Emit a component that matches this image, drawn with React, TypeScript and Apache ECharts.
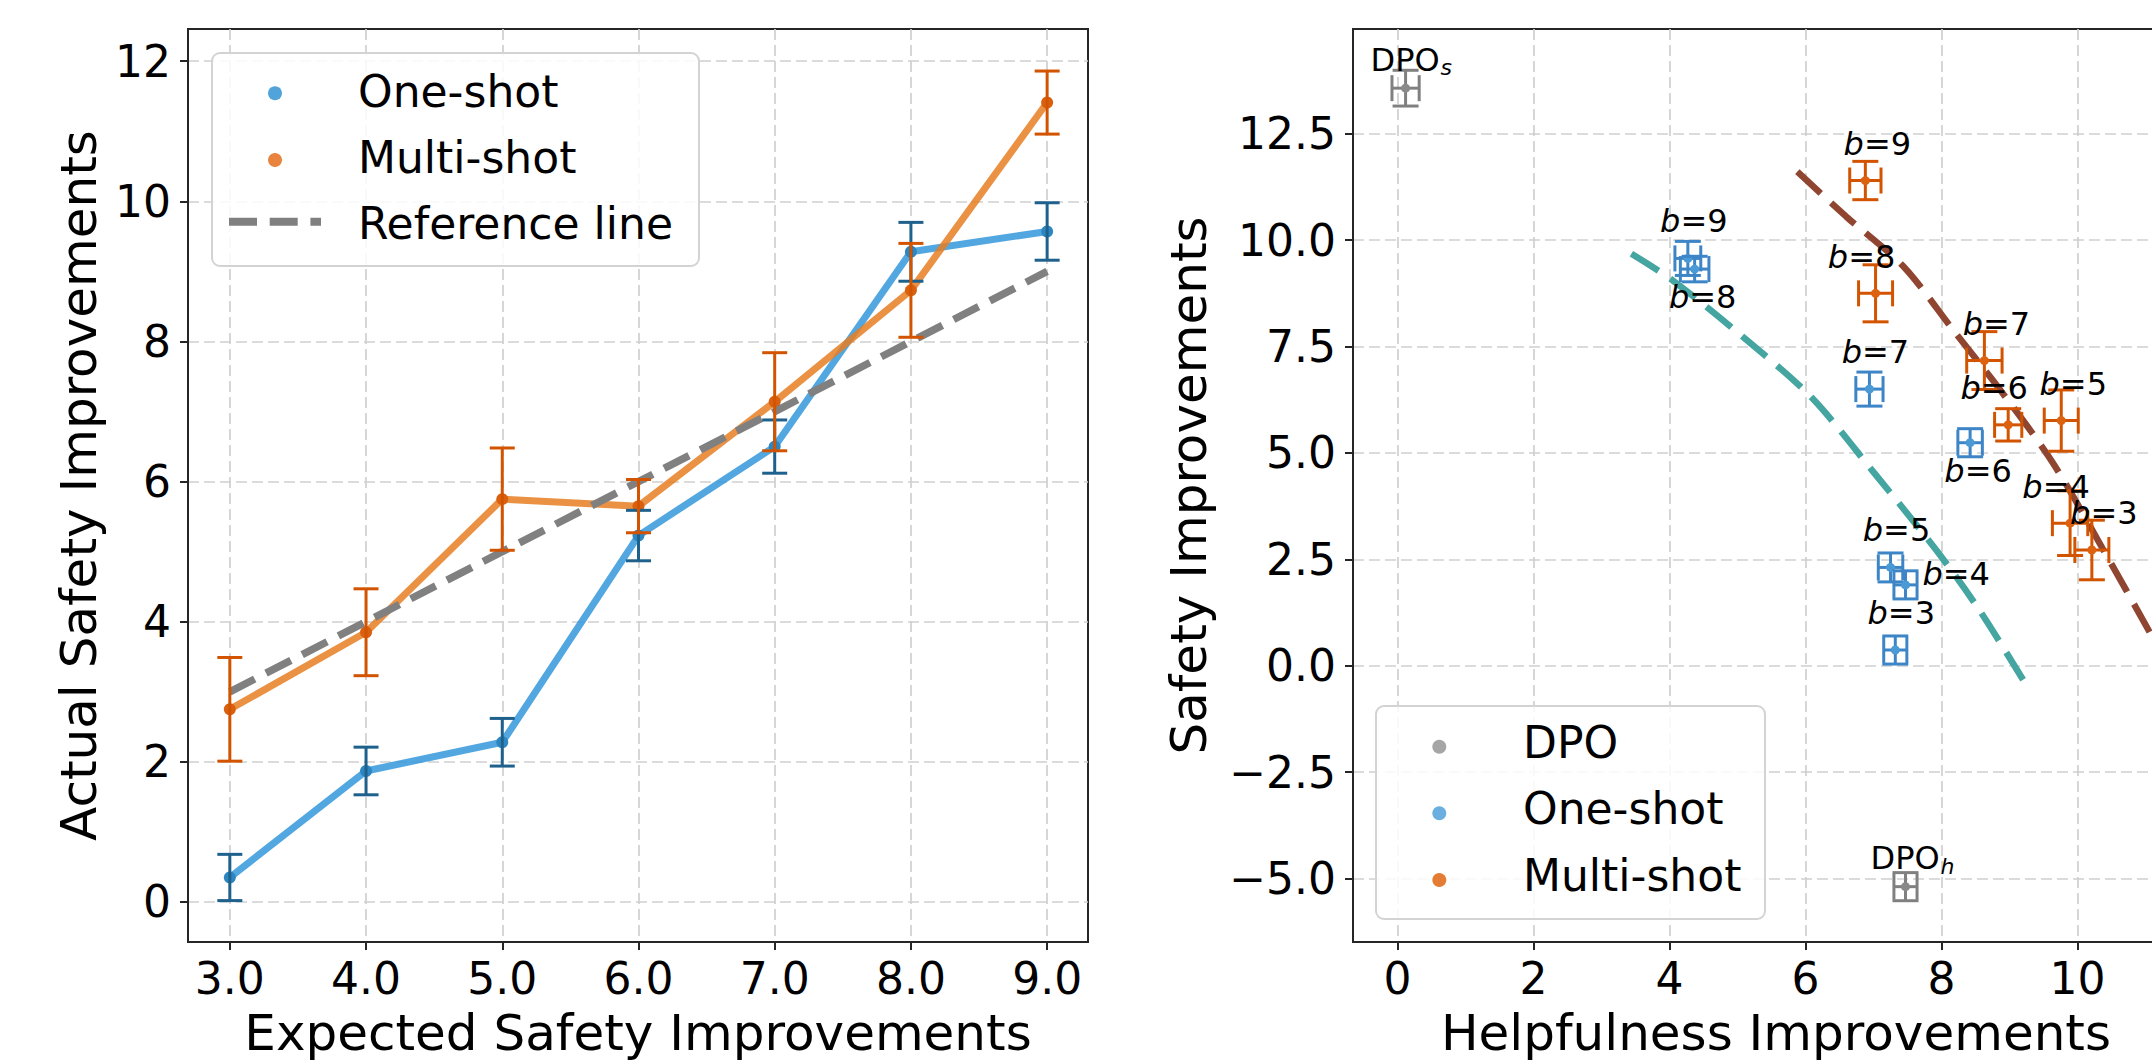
import React, { useEffect, useRef } from "react";
import * as echarts from "echarts";

// ---------- Left panel data ----------
const expectedSafety = [3, 4, 5, 6, 7, 8, 9];
const oneShotActual = [0.35, 1.87, 2.28, 5.23, 6.5, 9.28, 9.57];
const oneShotActualErr = [0.33, 0.34, 0.34, 0.36, 0.38, 0.42, 0.41];
const multiShotActual = [2.75, 3.85, 5.75, 5.65, 7.14, 8.73, 11.41];
const multiShotActualErr = [0.74, 0.62, 0.73, 0.38, 0.7, 0.67, 0.45];
const referenceActual = [3, 4, 5, 6, 7, 8, 9];

const leftXTicks = [3, 4, 5, 6, 7, 8, 9];
const leftYTicks = [0, 2, 4, 6, 8, 10, 12];

// ---------- Right panel data ----------
const oneShotBudgets = ["9", "8", "7", "6", "5", "4", "3"];
const oneShotHelp = [4.27, 4.37, 6.94, 8.42, 7.25, 7.47, 7.32];
const oneShotHelpErr = [0.19, 0.21, 0.2, 0.18, 0.18, 0.17, 0.17];
const oneShotSafety = [9.57, 9.32, 6.5, 5.24, 2.31, 1.9, 0.37];
const oneShotSafetyErr = [0.4, 0.3, 0.4, 0.33, 0.34, 0.33, 0.33];
const oneShotLabelPlace = ["above", "below", "above", "below", "above", "right", "above"];

const multiShotBudgets = ["9", "8", "7", "6", "5", "4", "3"];
const multiShotHelp = [6.88, 7.03, 8.63, 8.98, 9.76, 9.89, 10.21];
const multiShotHelpErr = [0.23, 0.25, 0.26, 0.2, 0.25, 0.26, 0.25];
const multiShotSafety = [11.4, 8.75, 7.17, 5.66, 5.76, 3.35, 2.72];
const multiShotSafetyErr = [0.45, 0.67, 0.68, 0.38, 0.72, 0.76, 0.7];
const multiShotLabelPlace = ["aboveRight", "aboveLeft", "aboveRight", "aboveLeft", "aboveRight", "aboveLeft", "aboveRight"];

const dpoSubscripts = ["s", "h"];
const dpoHelp = [0.12, 7.47];
const dpoHelpErr = [0.2, 0.17];
const dpoSafety = [13.57, -5.19];
const dpoSafetyErr = [0.42, 0.33];

const oneShotTrend = [
  [3.44, 9.68], [4.05, 9.05], [5.1, 7.7], [6.09, 6.3], [7.0, 4.55], [7.93, 2.7], [8.56, 1.3], [9.23, -0.41],
];
const multiShotTrend = [
  [5.88, 11.61], [6.6, 10.55], [7.44, 9.38], [8.17, 7.89], [8.9, 6.4], [9.64, 4.76], [10.38, 2.72], [11.07, 0.76], [11.6, -0.8],
];

const rightXTicks = [0, 2, 4, 6, 8, 10, 12];
const rightYTicks = [-5, -2.5, 0, 2.5, 5, 7.5, 10, 12.5];

// ---------- Styling ----------
const FONT = "DejaVu Sans";
const FRAME = "#262626";
const GRID = "#cfcfcf";
const TICK_FS = 44;
const TITLE_FS = 50;
const LEGEND_FS = 44;
const ANN_FS = 32;

const LEFT_GRID = { left: 188, top: 29, width: 900, height: 913 };
const RIGHT_GRID = { left: 1353, top: 29, width: 847, height: 913 };

const LABEL_OFFSETS: Record<string, { dx: number; base: number; align: string }> = {
  above: { dx: 6, base: -26, align: "center" },
  below: { dx: 8, base: 39, align: "center" },
  right: { dx: 17, base: 0, align: "left" },
  aboveRight: { dx: 12, base: -26, align: "center" },
  aboveLeft: { dx: -14, base: -25.5, align: "center" },
};

function minusFmt(v: number, digits: number) {
  const s = Math.abs(v).toFixed(digits);
  return v < 0 ? "\u2212" + s : s;
}

function valueAxis(gridIndex: number, min: number, max: number, ticks: number[], fmt: (v: number) => string, isX: boolean) {
  return {
    type: "value",
    gridIndex,
    min,
    max,
    axisLine: { show: true, onZero: false, lineStyle: { color: FRAME, width: 2 } },
    axisTick: { show: true, inside: false, length: 8, customValues: ticks, lineStyle: { color: FRAME, width: 2 } },
    axisLabel: {
      show: true,
      customValues: ticks,
      formatter: (v: number) => fmt(v),
      color: "#000",
      fontSize: TICK_FS,
      fontFamily: FONT,
      margin: isX ? 14 : 17,
    },
    splitLine: { show: true, lineStyle: { color: GRID, width: 1.7, type: [11, 5] } },
  };
}

function errorBarRenderer(color: string, markerColor: string | null, cap: number, lw: number, labels?: (i: number, cx: number, cy: number) => any[]) {
  return (params: any, api: any) => {
    const x = api.value(0);
    const y = api.value(1);
    const ex = api.value(2);
    const ey = api.value(3);
    const c = api.coord([x, y]);
    const children: any[] = [];
    const st = { stroke: color, lineWidth: lw };
    if (ey > 0) {
      const t = api.coord([x, y + ey]);
      const b = api.coord([x, y - ey]);
      children.push({ type: "line", shape: { x1: c[0], y1: t[1], x2: c[0], y2: b[1] }, style: st });
      children.push({ type: "line", shape: { x1: c[0] - cap / 2, y1: t[1], x2: c[0] + cap / 2, y2: t[1] }, style: st });
      children.push({ type: "line", shape: { x1: c[0] - cap / 2, y1: b[1], x2: c[0] + cap / 2, y2: b[1] }, style: st });
    }
    if (ex > 0) {
      const l = api.coord([x - ex, y]);
      const r = api.coord([x + ex, y]);
      children.push({ type: "line", shape: { x1: l[0], y1: c[1], x2: r[0], y2: c[1] }, style: st });
      children.push({ type: "line", shape: { x1: l[0], y1: c[1] - cap / 2, x2: l[0], y2: c[1] + cap / 2 }, style: st });
      children.push({ type: "line", shape: { x1: r[0], y1: c[1] - cap / 2, x2: r[0], y2: c[1] + cap / 2 }, style: st });
    }
    if (markerColor) {
      children.push({ type: "circle", shape: { cx: c[0], cy: c[1], r: 4.5 }, style: { fill: markerColor } });
    }
    if (labels) {
      labels(params.dataIndex, c[0], c[1]).forEach((e) => children.push(e));
    }
    return { type: "group", children };
  };
}

function budgetLabel(budgets: string[], places: string[]) {
  return (i: number, cx: number, cy: number) => {
    const o = LABEL_OFFSETS[places[i]];
    return [
      {
        type: "text",
        z2: 20,
        style: {
          text: "{i|b}=" + budgets[i],
          rich: { i: { fontStyle: "italic", fontSize: ANN_FS, fontFamily: FONT, fill: "#000" } },
          x: cx + o.dx,
          y: cy + o.base - 11,
          align: o.align,
          verticalAlign: "middle",
          fontSize: ANN_FS,
          fontFamily: FONT,
          fill: "#000",
        },
      },
    ];
  };
}

function dpoLabel(i: number, cx: number, cy: number) {
  const baseY = cy - 17.5;
  const left = cx - 35;
  return [
    {
      type: "text",
      z2: 20,
      style: { text: "DPO", x: left, y: baseY - 11, align: "left", verticalAlign: "middle", fontSize: ANN_FS, fontFamily: FONT, fill: "#000" },
    },
    {
      type: "text",
      z2: 20,
      style: { text: dpoSubscripts[i], x: left + 70, y: baseY + 5 - 7.7, align: "left", verticalAlign: "middle", fontSize: 22, fontStyle: "italic", fontFamily: FONT, fill: "#000" },
    },
  ];
}

function buildOption() {
  const zip4 = (a: number[], b: number[], c: number[], d: number[]) => a.map((v, i) => [v, b[i], c[i], d[i]]);

  const graphic: any[] = [
    // left legend
    { type: "rect", z: 100, shape: { x: 212, y: 53, width: 487, height: 213, r: 8 }, style: { fill: "rgba(255,255,255,0.85)", stroke: "#d3d3d3", lineWidth: 2 } },
    { type: "circle", z: 101, shape: { cx: 275, cy: 93.3, r: 7 }, style: { fill: "#52a3da" } },
    { type: "circle", z: 101, shape: { cx: 275, cy: 160, r: 7 }, style: { fill: "#e8843e" } },
    { type: "line", z: 101, shape: { x1: 229, y1: 221.7, x2: 321, y2: 221.7 }, style: { stroke: "#808080", lineWidth: 8, lineDash: [28, 12.7] } },
    { type: "text", z: 101, style: { text: "One-shot", x: 358, y: 91, align: "left", verticalAlign: "middle", fontSize: LEGEND_FS, fontFamily: FONT, fill: "#000" } },
    { type: "text", z: 101, style: { text: "Multi-shot", x: 358, y: 157.5, align: "left", verticalAlign: "middle", fontSize: LEGEND_FS, fontFamily: FONT, fill: "#000" } },
    { type: "text", z: 101, style: { text: "Reference line", x: 358, y: 223, align: "left", verticalAlign: "middle", fontSize: LEGEND_FS, fontFamily: FONT, fill: "#000" } },
    // right legend
    { type: "rect", z: 100, shape: { x: 1376, y: 706, width: 389, height: 213, r: 8 }, style: { fill: "rgba(255,255,255,0.85)", stroke: "#d3d3d3", lineWidth: 2 } },
    { type: "circle", z: 101, shape: { cx: 1439.3, cy: 746.7, r: 7 }, style: { fill: "#a6a6a6" } },
    { type: "circle", z: 101, shape: { cx: 1439.3, cy: 813.3, r: 7 }, style: { fill: "#6aafe0" } },
    { type: "circle", z: 101, shape: { cx: 1439.3, cy: 880, r: 7 }, style: { fill: "#e57c33" } },
    { type: "text", z: 101, style: { text: "DPO", x: 1523, y: 742, align: "left", verticalAlign: "middle", fontSize: LEGEND_FS, fontFamily: FONT, fill: "#000" } },
    { type: "text", z: 101, style: { text: "One-shot", x: 1523, y: 808.6, align: "left", verticalAlign: "middle", fontSize: LEGEND_FS, fontFamily: FONT, fill: "#000" } },
    { type: "text", z: 101, style: { text: "Multi-shot", x: 1523, y: 875.3, align: "left", verticalAlign: "middle", fontSize: LEGEND_FS, fontFamily: FONT, fill: "#000" } },
    // axis titles
    { type: "text", z: 101, x: 79, y: 485.5, rotation: Math.PI / 2, style: { text: "Actual Safety Improvements", x: 0, y: 0, align: "center", verticalAlign: "middle", fontSize: TITLE_FS, fontFamily: FONT, fill: "#000" } },
    { type: "text", z: 101, style: { text: "Expected Safety Improvements", x: 638, y: 1033, align: "center", verticalAlign: "middle", fontSize: TITLE_FS, fontFamily: FONT, fill: "#000" } },
    { type: "text", z: 101, x: 1189, y: 485.5, rotation: Math.PI / 2, style: { text: "Safety Improvements", x: 0, y: 0, align: "center", verticalAlign: "middle", fontSize: TITLE_FS, fontFamily: FONT, fill: "#000" } },
    { type: "text", z: 101, style: { text: "Helpfulness Improvements", x: 1776, y: 1033, align: "center", verticalAlign: "middle", fontSize: TITLE_FS, fontFamily: FONT, fill: "#000" } },
  ];

  return {
    animation: false,
    backgroundColor: "#fff",
    grid: [
      { ...LEFT_GRID, show: true, borderColor: FRAME, borderWidth: 2, backgroundColor: "transparent", containLabel: false, outerBoundsMode: "none" },
      { ...RIGHT_GRID, show: true, borderColor: FRAME, borderWidth: 2, backgroundColor: "transparent", containLabel: false, outerBoundsMode: "none" },
    ],
    xAxis: [
      valueAxis(0, 2.693, 9.3, leftXTicks, (v) => v.toFixed(1), true),
      valueAxis(1, -0.653, 11.8, rightXTicks, (v) => minusFmt(v, 0), true),
    ],
    yAxis: [
      valueAxis(0, -0.571, 12.46, leftYTicks, (v) => minusFmt(v, 0), false),
      valueAxis(1, -6.49, 14.96, rightYTicks, (v) => minusFmt(v, 1), false),
    ],
    graphic,
    series: [
      // ----- left -----
      {
        type: "line",
        name: "One-shot",
        xAxisIndex: 0,
        yAxisIndex: 0,
        z: 2,
        data: expectedSafety.map((x, i) => [x, oneShotActual[i]]),
        symbol: "circle",
        symbolSize: 12,
        itemStyle: { color: "#2e86c1" },
        lineStyle: { color: "#3498db", opacity: 0.85, width: 7 },
      },
      {
        type: "line",
        name: "Multi-shot",
        xAxisIndex: 0,
        yAxisIndex: 0,
        z: 2,
        data: expectedSafety.map((x, i) => [x, multiShotActual[i]]),
        symbol: "circle",
        symbolSize: 12,
        itemStyle: { color: "#d9600f" },
        lineStyle: { color: "#e67e22", opacity: 0.85, width: 7 },
      },
      {
        type: "line",
        name: "Reference line",
        xAxisIndex: 0,
        yAxisIndex: 0,
        z: 3,
        data: expectedSafety.map((x, i) => [x, referenceActual[i]]),
        symbol: "none",
        lineStyle: { color: "#808080", width: 7.5, type: [28, 12.7] },
      },
      {
        type: "custom",
        xAxisIndex: 0,
        yAxisIndex: 0,
        z: 4,
        data: zip4(expectedSafety, oneShotActual, expectedSafety.map(() => 0), oneShotActualErr),
        renderItem: errorBarRenderer("#1f618d", null, 25, 3),
      },
      {
        type: "custom",
        xAxisIndex: 0,
        yAxisIndex: 0,
        z: 4,
        data: zip4(expectedSafety, multiShotActual, expectedSafety.map(() => 0), multiShotActualErr),
        renderItem: errorBarRenderer("#d35400", null, 25, 3),
      },
      // ----- right -----
      {
        type: "line",
        xAxisIndex: 1,
        yAxisIndex: 1,
        z: 2,
        data: oneShotTrend,
        smooth: 0.3,
        symbol: "none",
        lineStyle: { color: "#45a5a0", width: 6.5, type: [32, 14] },
      },
      {
        type: "line",
        xAxisIndex: 1,
        yAxisIndex: 1,
        z: 2,
        data: multiShotTrend,
        smooth: 0.3,
        symbol: "none",
        lineStyle: { color: "#8f4530", width: 6.5, type: [32, 14] },
      },
      {
        type: "custom",
        name: "DPO",
        xAxisIndex: 1,
        yAxisIndex: 1,
        z: 5,
        data: zip4(dpoHelp, dpoSafety, dpoHelpErr, dpoSafetyErr),
        renderItem: errorBarRenderer("#808080", "#8a8a8a", 26, 3, dpoLabel),
      },
      {
        type: "custom",
        name: "One-shot",
        xAxisIndex: 1,
        yAxisIndex: 1,
        z: 5,
        data: zip4(oneShotHelp, oneShotSafety, oneShotHelpErr, oneShotSafetyErr),
        renderItem: errorBarRenderer("#3d85c6", "#4a9ad6", 26, 3, budgetLabel(oneShotBudgets, oneShotLabelPlace)),
      },
      {
        type: "custom",
        name: "Multi-shot",
        xAxisIndex: 1,
        yAxisIndex: 1,
        z: 5,
        data: zip4(multiShotHelp, multiShotSafety, multiShotHelpErr, multiShotSafetyErr),
        renderItem: errorBarRenderer("#d35400", "#dc6210", 26, 3, budgetLabel(multiShotBudgets, multiShotLabelPlace)),
      },
    ],
  };
}

export default function App() {
  const ref = useRef<HTMLDivElement>(null);
  useEffect(() => {
    document.documentElement.style.overflow = "hidden";
    document.body.style.margin = "0";
    document.body.style.overflow = "hidden";
    const chart = echarts.init(ref.current as HTMLDivElement, undefined, { renderer: "svg", width: 2240, height: 1064 });
    chart.setOption(buildOption() as any);
    return () => chart.dispose();
  }, []);
  return <div ref={ref} style={{ width: 2240, height: 1064, background: "#fff" }} />;
}
